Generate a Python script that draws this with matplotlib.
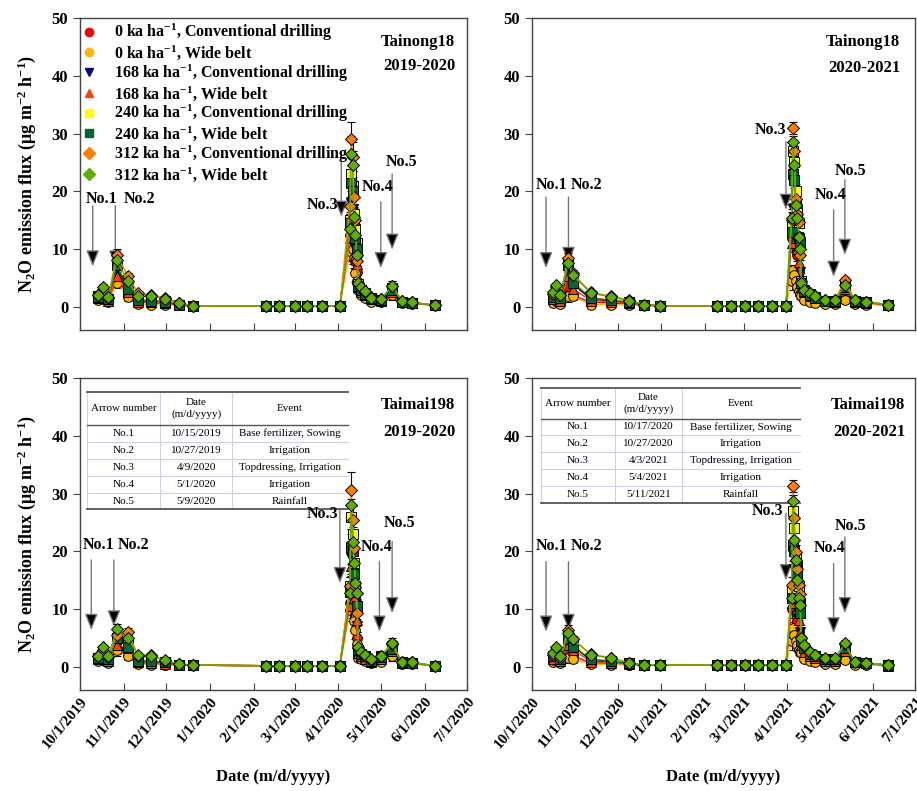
import numpy as np
import pandas as pd
import matplotlib
matplotlib.use("Agg")
import matplotlib.pyplot as plt
import matplotlib.dates as mdates
from matplotlib.lines import Line2D
from matplotlib.ticker import FuncFormatter

plt.rcParams["font.family"] = ["Liberation Serif", "DejaVu Serif"]
plt.rcParams["font.weight"] = "bold"
plt.rcParams["mathtext.fontset"] = "custom"
plt.rcParams["mathtext.rm"] = "Liberation Serif:bold"
plt.rcParams["mathtext.it"] = "Liberation Serif:bold:italic"
plt.rcParams["mathtext.bf"] = "Liberation Serif:bold"

# series: density x sowing pattern
series_labels = [
    "0 ka ha$^{-1}$, Conventional drilling",
    "0 ka ha$^{-1}$, Wide belt",
    "168 ka ha$^{-1}$, Conventional drilling",
    "168 ka ha$^{-1}$, Wide belt",
    "240 ka ha$^{-1}$, Conventional drilling",
    "240 ka ha$^{-1}$, Wide belt",
    "312 ka ha$^{-1}$, Conventional drilling",
    "312 ka ha$^{-1}$, Wide belt",
]
colors = ["#ff0000", "#ffb400", "#000080", "#ff4000", "#ffff00", "#006633", "#ff7f00", "#5fae00"]
markers = ["o", "o", "v", "^", "s", "s", "D", "D"]
msizes = [7, 7, 7, 7, 6.5, 6.5, 6.5, 6.5]

dates_1920 = pd.to_datetime([
    "2019-10-14", "2019-10-17", "2019-10-21", "2019-10-27", "2019-11-04", "2019-11-11",
    "2019-11-20", "2019-11-30", "2019-12-10", "2019-12-20", "2020-02-10", "2020-02-19",
    "2020-03-01", "2020-03-10", "2020-03-20", "2020-04-02", "2020-04-09", "2020-04-10",
    "2020-04-11", "2020-04-12", "2020-04-13", "2020-04-14", "2020-04-15", "2020-04-17",
    "2020-04-20", "2020-04-24", "2020-05-01", "2020-05-09", "2020-05-16", "2020-05-23",
    "2020-06-08"])
dates_2021 = pd.to_datetime([
    "2020-10-16", "2020-10-18", "2020-10-21", "2020-10-27", "2020-10-30", "2020-11-12",
    "2020-11-26", "2020-12-09", "2020-12-20", "2020-12-31", "2021-02-10", "2021-02-20",
    "2021-03-02", "2021-03-11", "2021-03-21", "2021-03-31", "2021-04-04", "2021-04-05",
    "2021-04-06", "2021-04-07", "2021-04-08", "2021-04-09", "2021-04-10", "2021-04-11",
    "2021-04-13", "2021-04-17", "2021-04-21", "2021-04-28", "2021-05-05", "2021-05-12",
    "2021-05-19", "2021-05-27", "2021-06-12"])

# Tainong18, 2019-2020 (rows in series order)
tn18_1920 = [
    [1.5, 1.8, 1.0, 5.0, 2.0, 0.8, 0.7, 0.6, 0.3, 0.15, 0.15, 0.15, 0.15, 0.15, 0.15, 0.15, 12.5, 14.0, 13.0, 11.0, 8.0, 6.0, 3.5, 2.5, 2.0, 1.3, 1.0, 2.8, 0.8, 0.6, 0.3],
    [1.2, 1.4, 0.8, 4.2, 1.7, 0.5, 0.4, 0.3, 0.25, 0.15, 0.15, 0.15, 0.15, 0.15, 0.15, 0.15, 9.6, 11.0, 10.0, 8.5, 5.8, 4.5, 3.0, 2.0, 1.5, 0.9, 0.8, 2.0, 0.6, 0.5, 0.3],
    [1.6, 2.2, 1.2, 7.0, 3.0, 1.0, 0.9, 0.8, 0.35, 0.15, 0.15, 0.15, 0.15, 0.15, 0.15, 0.15, 14.0, 18.0, 17.0, 14.0, 10.0, 8.0, 3.8, 2.8, 2.2, 1.5, 1.1, 3.0, 0.9, 0.7, 0.3],
    [1.5, 2.0, 1.1, 5.3, 2.5, 0.9, 0.8, 0.7, 0.3, 0.15, 0.15, 0.15, 0.15, 0.15, 0.15, 0.15, 12.0, 16.0, 15.0, 12.0, 9.0, 7.5, 3.5, 2.5, 2.0, 1.3, 1.0, 2.6, 0.8, 0.6, 0.3],
    [1.8, 2.5, 1.3, 7.5, 3.4, 1.3, 1.2, 1.0, 0.4, 0.15, 0.15, 0.15, 0.15, 0.15, 0.15, 0.15, 15.0, 23.0, 21.0, 16.0, 13.5, 11.0, 4.0, 3.0, 2.4, 1.6, 1.2, 3.2, 0.9, 0.7, 0.3],
    [1.7, 2.4, 1.3, 7.2, 3.1, 1.2, 1.1, 0.9, 0.4, 0.15, 0.15, 0.15, 0.15, 0.15, 0.15, 0.15, 14.5, 21.5, 20.0, 15.0, 12.0, 10.0, 3.7, 3.0, 2.3, 1.5, 1.2, 3.0, 0.9, 0.7, 0.3],
    [2.0, 3.0, 1.6, 9.0, 5.3, 2.4, 2.0, 1.6, 0.7, 0.15, 0.15, 0.15, 0.15, 0.15, 0.15, 0.15, 17.5, 29.0, 26.0, 19.0, 15.0, 8.0, 4.0, 3.2, 2.5, 1.7, 1.3, 3.7, 1.0, 0.8, 0.35],
    [2.1, 3.5, 1.7, 8.1, 4.4, 1.8, 1.9, 1.4, 0.6, 0.15, 0.15, 0.15, 0.15, 0.15, 0.15, 0.15, 13.5, 26.5, 24.5, 15.5, 12.5, 9.0, 4.1, 3.4, 2.8, 1.5, 1.3, 3.6, 1.0, 0.8, 0.3],
]

# Tainong18, 2020-2021
tn18_2021 = [
    [1.0, 1.5, 0.9, 3.5, 2.0, 0.8, 0.7, 0.5, 0.3, 0.2, 0.2, 0.2, 0.2, 0.2, 0.2, 0.2, 12.0, 14.0, 13.0, 11.0, 9.0, 6.0, 4.0, 3.0, 2.0, 1.5, 1.1, 0.8, 0.7, 2.2, 0.8, 0.6, 0.3],
    [0.7, 1.0, 0.5, 1.8, 1.8, 0.4, 0.4, 0.3, 0.25, 0.2, 0.2, 0.2, 0.2, 0.2, 0.2, 0.2, 4.5, 6.3, 5.5, 4.4, 3.5, 2.8, 2.2, 1.8, 1.2, 0.9, 0.7, 0.5, 0.5, 1.2, 0.5, 0.4, 0.3],
    [1.5, 2.2, 1.3, 7.0, 4.0, 1.3, 1.0, 0.7, 0.3, 0.2, 0.2, 0.2, 0.2, 0.2, 0.2, 0.2, 12.0, 17.0, 15.5, 14.2, 12.0, 9.0, 6.0, 4.0, 2.6, 2.0, 1.6, 1.1, 1.0, 3.0, 1.0, 0.8, 0.4],
    [1.3, 1.8, 1.1, 5.3, 3.1, 1.1, 0.9, 0.6, 0.3, 0.2, 0.2, 0.2, 0.2, 0.2, 0.2, 0.2, 11.0, 14.5, 13.3, 12.0, 10.0, 7.8, 5.0, 3.5, 2.5, 1.9, 1.5, 1.0, 0.9, 3.1, 0.9, 0.7, 0.4],
    [1.8, 2.8, 1.6, 7.5, 4.5, 1.6, 1.2, 0.9, 0.35, 0.2, 0.2, 0.2, 0.2, 0.2, 0.2, 0.2, 14.0, 27.0, 25.0, 20.0, 17.0, 14.5, 11.0, 4.5, 3.0, 2.2, 1.7, 1.1, 1.1, 3.6, 1.1, 0.9, 0.4],
    [1.7, 2.6, 1.5, 7.2, 4.2, 1.5, 1.2, 0.8, 0.35, 0.2, 0.2, 0.2, 0.2, 0.2, 0.2, 0.2, 13.0, 23.0, 22.0, 18.0, 15.0, 12.0, 11.0, 4.2, 2.8, 2.1, 1.6, 1.1, 1.0, 3.5, 1.0, 0.8, 0.4],
    [2.2, 3.4, 2.0, 8.4, 5.8, 2.5, 1.9, 1.2, 0.4, 0.2, 0.2, 0.2, 0.2, 0.2, 0.2, 0.2, 15.0, 31.0, 27.0, 18.7, 16.0, 14.7, 9.0, 4.5, 3.0, 2.4, 1.8, 1.2, 1.2, 4.7, 1.2, 0.9, 0.4],
    [2.6, 3.8, 2.1, 7.6, 5.5, 2.4, 1.7, 1.1, 0.4, 0.2, 0.2, 0.2, 0.2, 0.2, 0.2, 0.2, 15.4, 28.6, 24.5, 17.6, 15.4, 12.1, 10.0, 4.1, 2.9, 2.4, 1.9, 1.2, 1.2, 3.8, 1.2, 0.9, 0.4],
]

# Taimai198, 2019-2020
tm198_1920 = [
    [1.3, 1.6, 1.0, 3.2, 2.0, 0.6, 0.5, 0.4, 0.3, 0.3, 0.2, 0.2, 0.2, 0.2, 0.2, 0.2, 11.0, 13.0, 12.0, 10.0, 8.0, 5.0, 2.0, 1.6, 1.2, 0.8, 1.2, 2.5, 0.7, 0.6, 0.2],
    [1.0, 1.2, 0.7, 2.9, 1.8, 0.5, 0.4, 0.3, 0.3, 0.3, 0.2, 0.2, 0.2, 0.2, 0.2, 0.2, 9.9, 11.0, 10.5, 8.0, 6.4, 4.0, 1.6, 1.3, 1.0, 0.6, 0.9, 1.8, 0.5, 0.5, 0.2],
    [1.5, 2.2, 1.2, 4.8, 3.5, 0.9, 0.8, 0.6, 0.35, 0.3, 0.2, 0.2, 0.2, 0.2, 0.2, 0.2, 13.0, 18.8, 17.0, 14.0, 11.0, 7.0, 2.6, 2.0, 1.6, 1.0, 1.6, 3.0, 0.8, 0.7, 0.2],
    [1.4, 2.0, 1.1, 3.8, 3.3, 0.8, 0.7, 0.5, 0.35, 0.3, 0.2, 0.2, 0.2, 0.2, 0.2, 0.2, 10.6, 17.4, 15.0, 12.0, 10.0, 8.1, 2.4, 1.8, 1.4, 0.9, 1.4, 2.7, 0.7, 0.6, 0.2],
    [1.6, 2.6, 1.4, 5.0, 3.8, 1.2, 1.1, 0.8, 0.4, 0.3, 0.2, 0.2, 0.2, 0.2, 0.2, 0.2, 14.0, 26.0, 23.0, 18.0, 14.0, 10.0, 3.0, 2.3, 1.8, 1.1, 1.8, 3.6, 0.8, 0.7, 0.2],
    [1.6, 2.5, 1.4, 5.0, 3.5, 1.1, 1.0, 0.8, 0.4, 0.3, 0.2, 0.2, 0.2, 0.2, 0.2, 0.2, 13.0, 20.8, 20.0, 16.0, 13.0, 10.5, 3.0, 2.2, 1.8, 1.1, 1.7, 3.1, 0.8, 0.7, 0.2],
    [1.9, 3.0, 1.7, 5.5, 6.1, 1.9, 2.0, 1.1, 0.5, 0.3, 0.2, 0.2, 0.2, 0.2, 0.2, 0.2, 14.0, 30.7, 25.4, 20.5, 13.9, 9.3, 3.2, 2.4, 1.9, 1.2, 1.9, 3.9, 0.8, 0.8, 0.2],
    [1.8, 3.4, 1.9, 6.5, 5.0, 2.1, 1.9, 1.2, 0.5, 0.3, 0.2, 0.2, 0.2, 0.2, 0.2, 0.2, 12.8, 28.0, 21.7, 18.0, 14.5, 12.8, 3.4, 2.6, 2.1, 1.3, 1.9, 4.2, 0.8, 0.8, 0.2],
]

# Taimai198, 2020-2021
tm198_2021 = [
    [1.0, 1.6, 0.8, 2.8, 2.0, 0.6, 0.5, 0.4, 0.3, 0.3, 0.3, 0.3, 0.3, 0.3, 0.3, 0.3, 10.0, 13.0, 12.0, 10.0, 8.0, 6.0, 4.0, 3.0, 2.0, 1.4, 1.1, 0.8, 0.8, 1.8, 0.6, 0.5, 0.2],
    [0.8, 1.1, 0.6, 1.5, 1.3, 0.5, 0.4, 0.4, 0.3, 0.3, 0.3, 0.3, 0.3, 0.3, 0.3, 0.3, 4.4, 6.7, 5.5, 4.5, 3.8, 3.0, 2.6, 2.4, 1.4, 1.0, 0.8, 0.5, 0.5, 1.2, 0.4, 0.4, 0.2],
    [1.5, 2.4, 1.2, 5.0, 3.8, 1.0, 0.8, 0.5, 0.3, 0.3, 0.3, 0.3, 0.3, 0.3, 0.3, 0.3, 12.0, 19.4, 17.0, 15.0, 12.0, 9.0, 6.0, 4.0, 2.8, 2.0, 1.7, 1.1, 1.1, 3.0, 0.9, 0.7, 0.2],
    [1.4, 2.2, 1.1, 3.8, 3.0, 0.9, 0.7, 0.5, 0.3, 0.3, 0.3, 0.3, 0.3, 0.3, 0.3, 0.3, 11.0, 14.5, 13.3, 12.0, 10.0, 8.2, 6.0, 3.8, 2.6, 1.9, 1.6, 1.0, 1.0, 2.8, 0.8, 0.6, 0.2],
    [1.8, 2.8, 1.4, 5.5, 4.2, 1.4, 1.1, 0.6, 0.3, 0.3, 0.3, 0.3, 0.3, 0.3, 0.3, 0.3, 13.0, 26.9, 24.0, 19.0, 17.4, 14.0, 11.0, 4.5, 3.3, 2.3, 1.9, 1.3, 1.3, 3.5, 0.9, 0.7, 0.3],
    [1.8, 2.7, 1.4, 4.8, 3.5, 1.3, 1.0, 0.6, 0.3, 0.3, 0.3, 0.3, 0.3, 0.3, 0.3, 0.3, 12.0, 21.1, 20.0, 18.0, 15.8, 12.0, 9.3, 4.5, 3.3, 2.3, 1.9, 1.3, 1.3, 3.2, 0.9, 0.7, 0.3],
    [2.1, 3.0, 1.6, 6.4, 4.8, 2.2, 1.6, 0.7, 0.35, 0.3, 0.3, 0.3, 0.3, 0.3, 0.3, 0.3, 14.1, 31.3, 25.7, 19.9, 17.0, 14.1, 12.6, 5.0, 3.6, 2.5, 2.0, 1.4, 1.4, 3.9, 0.9, 0.7, 0.3],
    [2.4, 3.4, 1.8, 5.9, 4.8, 2.1, 1.5, 0.7, 0.35, 0.3, 0.3, 0.3, 0.3, 0.3, 0.3, 0.3, 12.0, 28.7, 22.0, 18.5, 15.0, 12.0, 10.7, 5.0, 3.8, 2.6, 2.1, 1.5, 1.5, 4.1, 0.9, 0.7, 0.3],
]

# standard errors per sampling date
err_1920 = [0.3, 0.4, 0.3, 1.0, 0.6, 0.3, 0.3, 0.2, 0.1, 0.05, 0.05, 0.05, 0.05, 0.05, 0.05, 0.05,
            1.5, 3.0, 2.5, 1.8, 1.5, 1.0, 0.5, 0.4, 0.3, 0.2, 0.3, 0.8, 0.15, 0.1, 0.05]
err_2021 = [0.3, 0.4, 0.3, 0.9, 0.6, 0.3, 0.2, 0.15, 0.05, 0.05, 0.05, 0.05, 0.05, 0.05, 0.05, 0.05,
            1.5, 1.0, 1.5, 1.2, 1.0, 0.9, 0.8, 0.5, 0.4, 0.3, 0.2, 0.2, 0.2, 0.5, 0.15, 0.1, 0.05]

# management events (table)
events = ["Base fertilizer, Sowing", "Irrigation", "Topdressing, Irrigation", "Irrigation", "Rainfall"]
arrow_names = ["No.1", "No.2", "No.3", "No.4", "No.5"]
event_dates_1920 = ["10/15/2019", "10/27/2019", "4/9/2020", "5/1/2020", "5/9/2020"]
event_dates_2021 = ["10/17/2020", "10/27/2020", "4/3/2021", "5/4/2021", "5/11/2021"]

# arrows: (arrow date, start y, tip y, text date, text y)
arrows_tl = [("2019-10-10", 17.5, 7.0, "2019-10-16", 18.7), ("2019-10-26", 17.5, 7.0, "2019-11-12", 18.7),
             ("2020-04-03", 26.6, 15.6, "2020-03-21", 17.6), ("2020-05-01", 18.2, 6.7, "2020-04-29", 20.8),
             ("2020-05-09", 23.0, 9.9, "2020-05-16", 25.0)]
arrows_tr = [("2020-10-11", 19.0, 6.7, "2020-10-15", 21.1), ("2020-10-27", 19.0, 7.6, "2020-11-09", 21.1),
             ("2021-03-31", 28.6, 16.8, "2021-03-20", 30.6), ("2021-05-04", 16.8, 5.2, "2021-05-02", 19.4),
             ("2021-05-12", 22.0, 9.0, "2021-05-16", 23.5)]
arrows_bl = [("2019-10-09", 18.5, 6.4, "2019-10-14", 21.1), ("2019-10-25", 18.5, 7.0, "2019-11-08", 21.1),
             ("2020-04-02", 27.2, 14.5, "2020-03-21", 26.4), ("2020-04-30", 18.2, 6.1, "2020-04-28", 20.8),
             ("2020-05-09", 21.7, 9.3, "2020-05-14", 24.9)]
arrows_br = [("2020-10-11", 18.2, 6.1, "2020-10-15", 20.9), ("2020-10-27", 18.2, 6.4, "2020-11-09", 20.9),
             ("2021-03-31", 26.6, 15.0, "2021-03-18", 26.9), ("2021-05-04", 17.9, 5.8, "2021-05-01", 20.5),
             ("2021-05-12", 22.5, 9.3, "2021-05-16", 24.4)]

W, H = 917, 791
fig = plt.figure(figsize=(W / 100, H / 100), dpi=100)


def px_axes(left, top, right, bottom):
    return fig.add_axes([left / W, 1 - bottom / H, (right - left) / W, (bottom - top) / H])


ax_tl = px_axes(80, 18, 467, 330)
ax_tr = px_axes(532, 18, 915, 330)
ax_bl = px_axes(80, 378, 467, 690)
ax_br = px_axes(532, 378, 915, 690)

date_fmt = FuncFormatter(lambda v, p: "%d/%d/%d" % (mdates.num2date(v).month, mdates.num2date(v).day, mdates.num2date(v).year))


def draw_table(ax, xs, ys, dates):
    light = "#ccd2e2"
    dark = "#555555"
    for y in ys[2:-1]:
        ax.plot([xs[0], xs[-1]], [y, y], color=light, lw=0.8, transform=ax.transAxes, zorder=2)
    for x in xs[:-1]:
        ax.plot([x, x], [ys[0], ys[-1]], color=light, lw=0.8, transform=ax.transAxes, zorder=2)
    for y, lw in [(ys[0], 1.3), (ys[1], 1.0), (ys[-1], 1.3)]:
        ax.plot([xs[0], xs[-1]], [y, y], color=dark, lw=lw, transform=ax.transAxes, zorder=2)
    header = ["Arrow number", "Date\n(m/d/yyyy)", "Event"]
    cx = [(xs[i] + xs[i + 1]) / 2 for i in range(3)]
    for i, h in enumerate(header):
        ax.text(cx[i], (ys[0] + ys[1]) / 2, h, transform=ax.transAxes, ha="center", va="center",
                fontsize=8, fontweight="normal", linespacing=1.3, zorder=3)
    for r in range(5):
        yc = (ys[r + 1] + ys[r + 2]) / 2
        for i, t in enumerate([arrow_names[r], dates[r], events[r]]):
            ax.text(cx[i], yc, t, transform=ax.transAxes, ha="center", va="center",
                    fontsize=8, fontweight="normal", zorder=3)


panels = [
    (ax_tl, dates_1920, tn18_1920, err_1920, "Tainong18", "2019-2020", arrows_tl, ("2019-10-01", "2020-07-01"), 0.969, (0.924, 0.846)),
    (ax_tr, dates_2021, tn18_2021, err_2021, "Tainong18", "2020-2021", arrows_tr, ("2020-10-01", "2021-07-01"), 0.961, (0.924, 0.840)),
    (ax_bl, dates_1920, tm198_1920, err_1920, "Taimai198", "2019-2020", arrows_bl, ("2019-10-01", "2020-07-01"), 0.969, (0.913, 0.827)),
    (ax_br, dates_2021, tm198_2021, err_2021, "Taimai198", "2020-2021", arrows_br, ("2020-10-01", "2021-07-01"), 0.974, (0.913, 0.827)),
]

for k, (ax, dts, vals, err, cultivar, season, arrows, xlim, tx, tys) in enumerate(panels):
    for i in range(8):
        ax.errorbar(dts, vals[i], yerr=err, fmt="none", ecolor="black", elinewidth=0.8,
                    capsize=3, capthick=0.8, zorder=3)
        ax.plot(dts, vals[i], color=colors[i], lw=1.0, marker=markers[i], ms=msizes[i],
                mfc=colors[i], mec="black", mew=0.7, zorder=4 + i)
    ax.set_xlim(pd.Timestamp(xlim[0]), pd.Timestamp(xlim[1]))
    ax.set_ylim(-4, 50)
    ax.set_yticks([0, 10, 20, 30, 40, 50])
    ax.xaxis.set_major_locator(mdates.MonthLocator())
    ax.xaxis.set_major_formatter(date_fmt)
    ax.tick_params(axis="x", direction="in", length=5, color="#444444", labelsize=11)
    ax.tick_params(axis="y", direction="out", length=5, color="#444444", labelsize=12)
    for s in ax.spines.values():
        s.set_color("#444444")
        s.set_linewidth(1.0)
    if k < 2:
        ax.tick_params(axis="x", labelbottom=False)
    else:
        for lab in ax.get_xticklabels():
            lab.set_rotation(50)
            lab.set_ha("right")
            lab.set_rotation_mode("anchor")
        ax.set_xlabel("Date (m/d/yyyy)", fontsize=12, fontweight="bold", labelpad=13)
    if k % 2 == 0:
        ax.set_ylabel("N$_2$O emission flux (\u03bcg m$^{-2}$ h$^{-1}$)", fontsize=13, fontweight="bold", labelpad=10)

    ax.text(tx, tys[0], cultivar, transform=ax.transAxes, ha="right", va="center", fontsize=12, fontweight="bold")
    ax.text(tx, tys[1], season, transform=ax.transAxes, ha="right", va="center", fontsize=12, fontweight="bold")

    for j, (ad, y0, y1, td, ty) in enumerate(arrows):
        ax.annotate("", xy=(pd.Timestamp(ad), y1), xytext=(pd.Timestamp(ad), y0),
                    arrowprops=dict(arrowstyle="-|>,head_length=0.7,head_width=0.28", fc="black",
                                    ec="#777777", lw=1.0, mutation_scale=14, shrinkA=0, shrinkB=0),
                    zorder=2)
        ax.text(pd.Timestamp(td), ty, arrow_names[j], ha="center", va="center", fontsize=11.5,
                fontweight="bold", zorder=20)

draw_table(ax_bl, [0.018, 0.2075, 0.3928, 0.6925], [0.956, 0.849, 0.795, 0.740, 0.686, 0.631, 0.579], event_dates_1920)
draw_table(ax_br, [0.0235, 0.2167, 0.3909, 0.6997], [0.967, 0.870, 0.816, 0.762, 0.708, 0.654, 0.600], event_dates_2021)

handles = [Line2D([], [], ls="none", marker=markers[i], ms=6, mfc=colors[i], mec=colors[i])
           for i in range(8)]
ax_tl.legend(handles, series_labels, loc="upper left", frameon=False,
             prop={"weight": "bold", "size": 11.5}, handlelength=0.6, handletextpad=1.3,
             labelspacing=0.02, borderaxespad=0.1, borderpad=0.15)

fig.savefig("out.png", dpi=100)
